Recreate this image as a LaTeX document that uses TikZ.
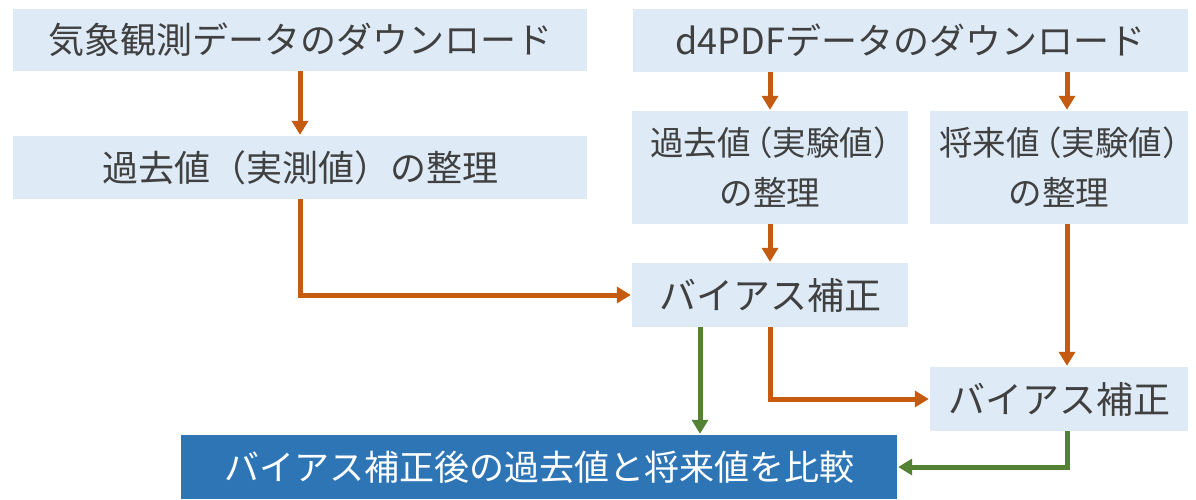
\documentclass[tikz,border=0pt]{standalone}
\usepackage{fontspec}
\newfontfamily\jp{Noto Sans CJK JP}
\newfontfamily\jph{Noto Sans CJK JP}[RawFeature=+halt]
\usetikzlibrary{arrows.meta,calc}
\definecolor{boxfill}{HTML}{DEEBF7}
\definecolor{boxtext}{HTML}{404040}
\definecolor{orangeA}{HTML}{C55A11}
\definecolor{greenA}{HTML}{548235}
\definecolor{finalfill}{HTML}{2E75B6}
\tikzset{
  lbox/.style={fill=boxfill, draw=none, inner sep=0pt, text=boxtext, align=center,
    font=\jp\fontsize{36}{50}\selectfont},
  tbox/.style={lbox, font=\jph\fontsize{33.5}{50}\selectfont},
  fbox/.style={fill=finalfill, draw=none, inner sep=0pt, text=white, align=center,
    font=\jp\fontsize{35}{50}\selectfont},
  oarr/.style={draw=orangeA, line width=5pt, -{Triangle[length=14pt,width=16pt]}, shorten >=1pt},
  garr/.style={draw=greenA, line width=5pt, -{Triangle[length=14pt,width=16pt]}, shorten >=1pt},
}
\begin{document}
\begin{tikzpicture}[x=1pt,y=-1pt]
\useasboundingbox (0,0) rectangle (1196,499);
\fill[white] (0,0) rectangle (1196,499);

\node[lbox, minimum width=574pt, minimum height=62pt] (obs) at (300,40) {気象観測データのダウンロード};
\node[lbox, minimum width=574pt, minimum height=63pt] (pastobs) at (300,167.5) {過去値（実測値）の整理};
\node[lbox, minimum width=555pt, minimum height=63pt] (d4) at (910.5,40.5) {d4PDFデータのダウンロード};
\node[tbox, minimum width=276pt, minimum height=113pt] (pastexp) at (770,167.5) {過去値\hspace{5pt}（実験値）\\の整理};
\node[tbox, minimum width=258pt, minimum height=113pt] (futexp) at (1059,167.5) {将来値\hspace{5pt}（実験値）\\の整理};
\node[lbox, minimum width=276pt, minimum height=64pt, font=\jp\fontsize{37}{50}\selectfont] (bc1) at (770,295) {バイアス補正};
\node[lbox, minimum width=258pt, minimum height=64pt, font=\jp\fontsize{37}{50}\selectfont] (bc2) at (1059,399) {バイアス補正};
\node[fbox, minimum width=716pt, minimum height=64pt] (final) at (539,467) {バイアス補正後の過去値と将来値を比較};

\coordinate (cR) at (1067,0);
\coordinate (cG) at (700,0);

\draw[oarr] (obs.south) -- (pastobs.north);
\draw[oarr] (pastobs.south) |- (bc1.west);
\draw[oarr] (d4.south -| pastexp) -- (pastexp.north);
\draw[oarr] (d4.south -| cR) -- (futexp.north -| cR);
\draw[oarr] (pastexp.south) -- (bc1.north);
\draw[oarr] (futexp.south -| cR) -- (bc2.north -| cR);
\draw[oarr] (bc1.south) |- (bc2.west);
\draw[garr] (bc1.south -| cG) -- (final.north -| cG);
\draw[garr] (bc2.south -| cR) |- (final.east);
\end{tikzpicture}
\end{document}
